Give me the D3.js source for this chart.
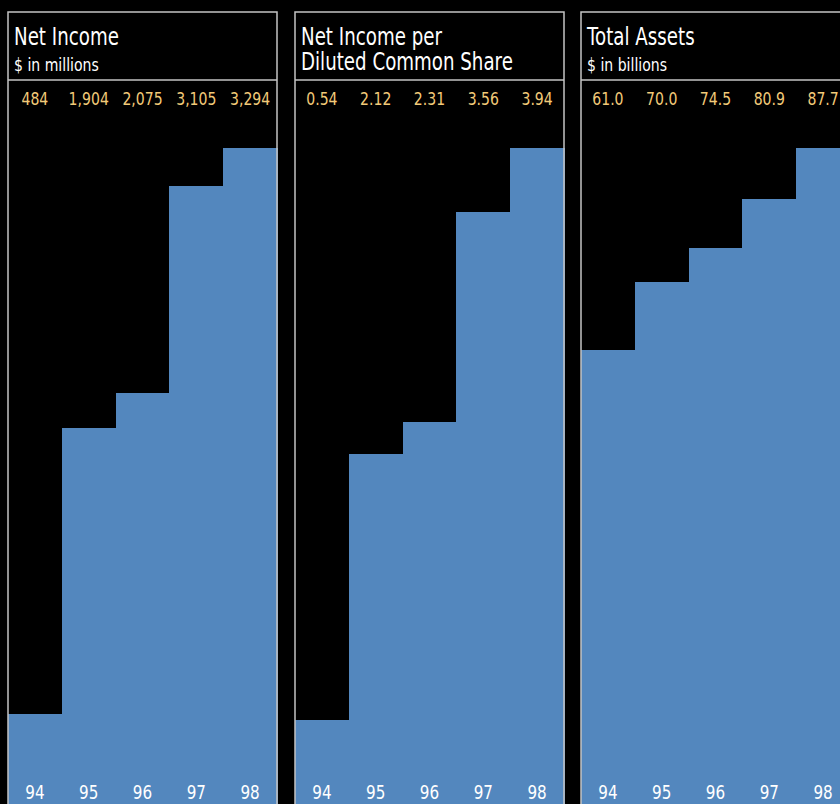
<!DOCTYPE html>
<html>
<head>
<meta charset="utf-8" />
<title>Financial highlights</title>
<style>
  body { margin: 0; background: #000; }
  svg { display: block; }
  text { font-family: "DejaVu Sans", sans-serif; }
</style>
</head>
<body>
<svg width="840" height="804"></svg>
<script src="https://cdn.jsdelivr.net/npm/d3@7/dist/d3.min.js"></script>
<script>
var years = ['94', '95', '96', '97', '98'];

var netIncome = [484, 1904, 2075, 3105, 3294];
var netIncomeLabels = ['484', '1,904', '2,075', '3,105', '3,294'];

var perShare = [0.54, 2.12, 2.31, 3.56, 3.94];
var perShareLabels = ['0.54', '2.12', '2.31', '3.56', '3.94'];

var totalAssets = [61.0, 70.0, 74.5, 80.9, 87.7];
var totalAssetsLabels = ['61.0', '70.0', '74.5', '80.9', '87.7'];

var panels = [
    { title: ['Net Income'], sub: '$ in millions', values: netIncome, labels: netIncomeLabels },
    { title: ['Net Income per', 'Diluted Common Share'], sub: null, values: perShare, labels: perShareLabels },
    { title: ['Total Assets'], sub: '$ in billions', values: totalAssets, labels: totalAssetsLabels }
];

var svg = d3.select('svg');
var panelW = 269, frameTop = 12, headH = 68, baseY = 811, maxY = 148;
var lefts = [8, 295, 581];
var squeeze = 0.76; // narrow the font, the original uses a condensed face

function place(x, y) {
    return 'translate(' + x + ',' + y + ') scale(' + squeeze + ',1)';
}

panels.forEach(function (p, i) {
    var g = svg.append('g').attr('transform', 'translate(' + lefts[i] + ',0)');

    var x = d3.scaleBand().domain(years).range([0, panelW]);
    var y = d3.scaleLinear()
        .domain([0, d3.max(p.values)])
        .range([baseY, maxY]);

    g.selectAll('rect.bar')
        .data(p.values)
        .enter()
        .append('rect')
        .attr('class', 'bar')
        .attr('x', function (d, j) { return x(years[j]); })
        .attr('width', x.bandwidth() + 1)
        .attr('y', function (d) { return y(d); })
        .attr('height', function (d) { return baseY - y(d); })
        .attr('fill', '#5387be')
        .attr('shape-rendering', 'crispEdges');

    // frame
    g.append('rect')
        .attr('x', 0).attr('y', frameTop)
        .attr('width', panelW).attr('height', 900)
        .attr('fill', 'none')
        .attr('stroke', '#c4c4c4')
        .attr('stroke-width', 1.5);
    g.append('line')
        .attr('x1', 0).attr('x2', panelW)
        .attr('y1', frameTop + headH).attr('y2', frameTop + headH)
        .attr('stroke', '#c4c4c4')
        .attr('stroke-width', 1.5);

    g.selectAll('text.title')
        .data(p.title)
        .enter()
        .append('text')
        .attr('class', 'title')
        .attr('transform', function (d, j) { return place(6, 45 + j * 25); })
        .attr('fill', '#fff')
        .style('font-size', '24px')
        .text(function (d) { return d; });

    if (p.sub) {
        g.append('text')
            .attr('transform', place(6, 71))
            .attr('fill', '#fff')
            .style('font-size', '18.5px')
            .text(p.sub);
    }

    g.selectAll('text.val')
        .data(p.labels)
        .enter()
        .append('text')
        .attr('class', 'val')
        .attr('transform', function (d, j) { return place(x(years[j]) + x.bandwidth() / 2, 105); })
        .attr('text-anchor', 'middle')
        .attr('fill', '#f2ca78')
        .style('font-size', '18.5px')
        .text(function (d) { return d; });

    g.selectAll('text.year')
        .data(years)
        .enter()
        .append('text')
        .attr('class', 'year')
        .attr('transform', function (d) { return place(x(d) + x.bandwidth() / 2, 799); })
        .attr('text-anchor', 'middle')
        .attr('fill', '#fff')
        .style('font-size', '20px')
        .text(function (d) { return d; });
});
</script>
</body>
</html>
